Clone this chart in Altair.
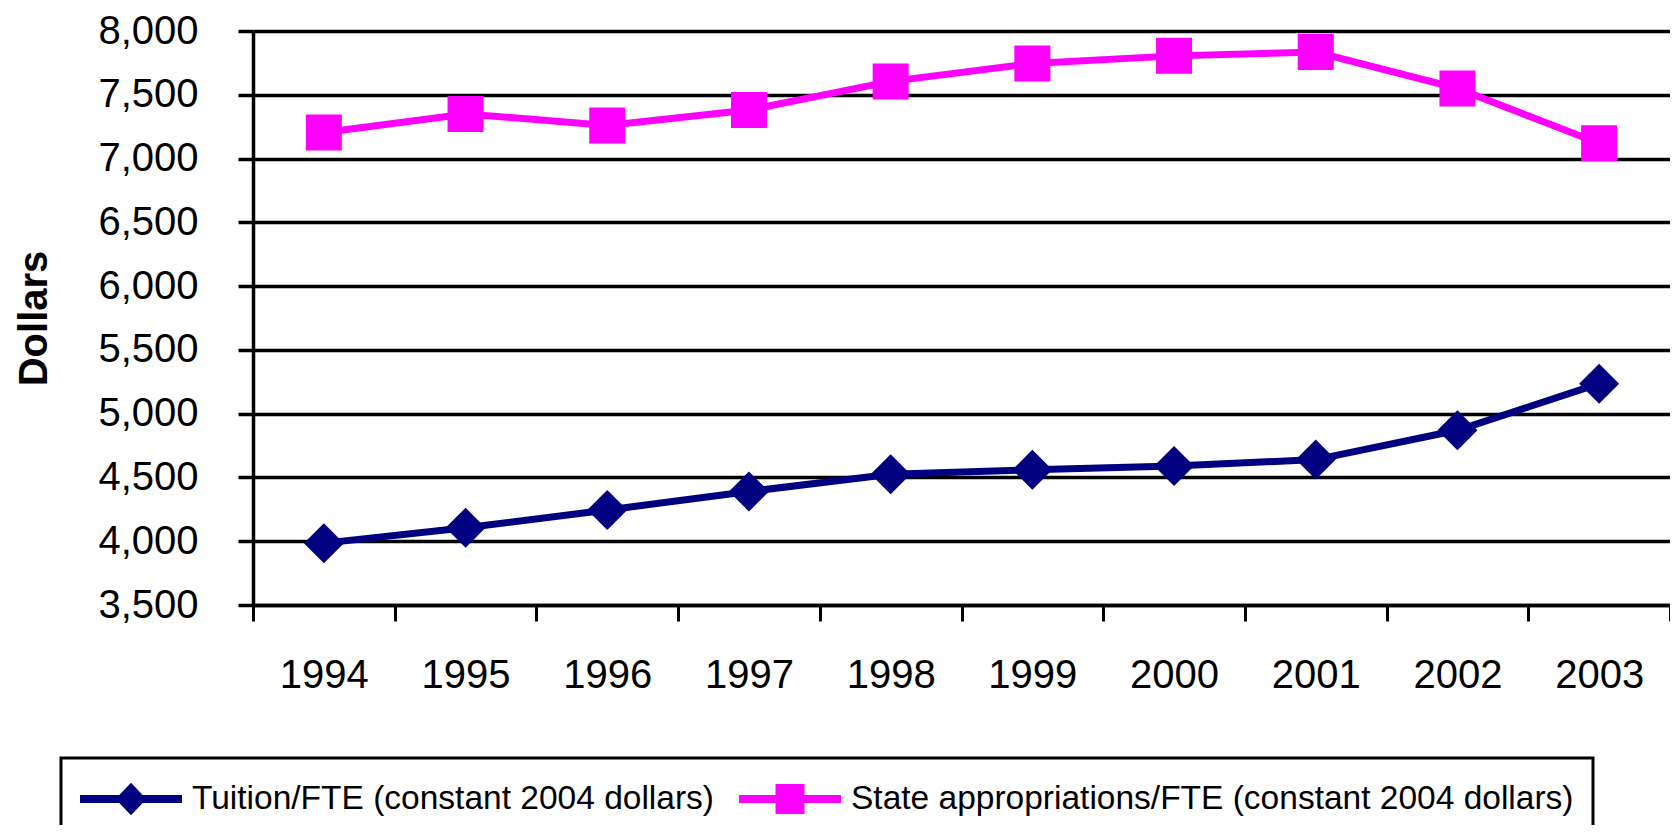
import altair as alt
import pandas as pd

years = [1994, 1995, 1996, 1997, 1998, 1999, 2000, 2001, 2002, 2003]
tuition = [3985, 4105, 4245, 4390, 4525, 4560, 4590, 4640, 4870, 5235]
approp = [7205, 7350, 7260, 7380, 7605, 7745, 7805, 7835, 7550, 7120]
series_names = ["Tuition/FTE (constant 2004 dollars)",
                "State appropriations/FTE (constant 2004 dollars)"]
series_colors = ["#000080", "#FF00FF"]
y_ticks = [3500, 4000, 4500, 5000, 5500, 6000, 6500, 7000, 7500, 8000]

rows = []
for y, t, a in zip(years, tuition, approp):
    rows.append({"year": y, "value": t, "series": series_names[0]})
    rows.append({"year": y, "value": a, "series": series_names[1]})
df = pd.DataFrame(rows)

FONT = "Liberation Sans, Arial, sans-serif"

# legend glyphs: line segment + marker (unit path, [-1,1] spans the symbol width)
leg_diamond = "M-1,-0.078L1,-0.078L1,0.078L-1,0.078Z M0,-0.32L0.304,0L0,0.32L-0.304,0Z"
leg_square = "M-1,-0.078L1,-0.078L1,0.078L-1,0.078Z M-0.284,-0.294L0.284,-0.294L0.284,0.294L-0.284,0.294Z"

x_enc = alt.X(
    "year:O",
    scale=alt.Scale(type="band", paddingInner=0, paddingOuter=0),
    bandPosition=0.5,
    title=None,
    axis=alt.Axis(
        tickBand="extent", labelAngle=0, labelFontSize=40, labelFont=FONT,
        labelColor="black", labelPadding=34, tickSize=16, tickWidth=3,
        tickColor="black", domainColor="black", domainWidth=3.5, grid=False,
    ),
)
y_enc = alt.Y(
    "value:Q",
    scale=alt.Scale(domain=[3500, 8000], nice=False, zero=False),
    axis=alt.Axis(
        values=y_ticks, format=",d", title="Dollars", titleFont=FONT,
        titleFontSize=40, titleFontWeight="bold", titleColor="black",
        titleAngle=270, titleX=-219, titleY=287, titleAlign="center",
        titleBaseline="middle",
        labelFontSize=40, labelFont=FONT, labelColor="black", labelPadding=40,
        tickSize=15, tickWidth=3.5, tickColor="black", domainColor="black",
        domainWidth=3.5, grid=True, gridColor="black", gridWidth=3.5,
    ),
)

base = alt.Chart(df)

layers = []
shapes = ["diamond", "square"]
sizes = [1600, 1296]
for name, col, shp, sz in zip(series_names, series_colors, shapes, sizes):
    sub = base.transform_filter(alt.datum.series == name)
    layers.append(sub.mark_line(color=col, strokeWidth=7).encode(x=x_enc, y=y_enc))
    layers.append(sub.mark_point(shape=shp, size=sz, filled=True, opacity=1,
                                 color=col, strokeWidth=0).encode(x=x_enc, y=y_enc))

legend = alt.Legend(
    orient="none", legendX=-192, legendY=727, direction="horizontal",
    padding=19, clipHeight=44, labelOffset=10, columnPadding=25,
    symbolSize=10404, symbolStrokeWidth=0, symbolOpacity=1,
    labelFontSize=33.5, labelFont=FONT, labelColor="black", labelLimit=1200,
    strokeColor="black", fillColor="white",
)

legend_layer = base.mark_point(filled=True, opacity=0, size=10).encode(
    x=x_enc, y=y_enc,
    color=alt.Color("series:N", title=None,
                    scale=alt.Scale(domain=series_names, range=series_colors),
                    legend=legend),
    shape=alt.Shape("series:N", title=None,
                    scale=alt.Scale(domain=series_names, range=[leg_diamond, leg_square]),
                    legend=legend),
)
layers.append(legend_layer)

chart = alt.layer(*layers).properties(
    width=1417, height=574,
    autosize=alt.AutoSizeParams(type="none"),
    padding={"left": 245, "top": 23, "right": 0, "bottom": 220},
).configure_view(fill="#d9d9d9", strokeWidth=0).configure(background="white"
).configure_legend(strokeWidth=3)

chart.save("out.html", embed_options={"renderer": "svg", "actions": False})
